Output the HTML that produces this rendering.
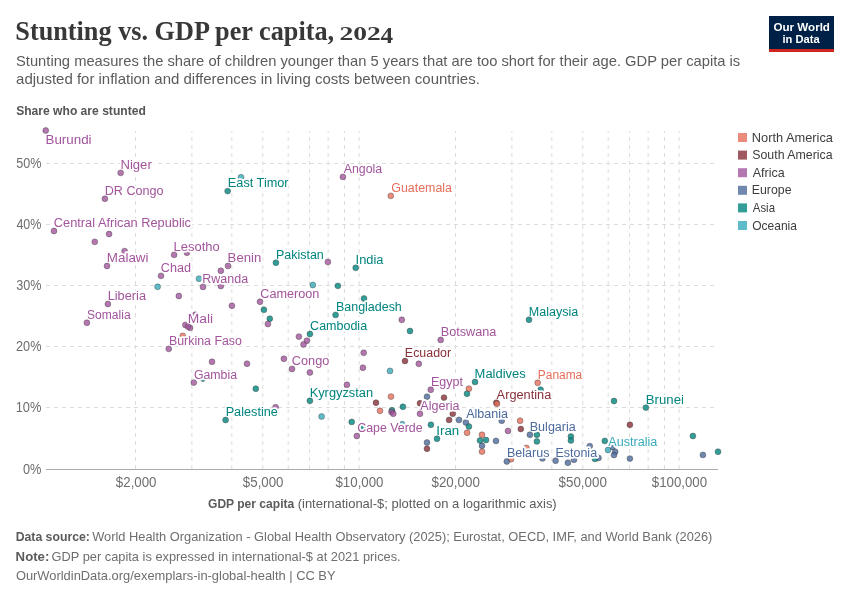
<!DOCTYPE html>
<html><head><meta charset="utf-8"><title>Stunting vs. GDP per capita, 2024</title>
<style>
html,body{margin:0;padding:0;background:#fff;}
body{width:850px;height:600px;overflow:hidden;}
svg{display:block;will-change:transform;}
text{font-family:"Liberation Sans",sans-serif;}
.serif{font-family:"Liberation Serif",serif;}
</style></head><body>
<svg width="850" height="600" viewBox="0 0 850 600">
<rect width="850" height="600" fill="#fff"/>

<text class="serif" x="15.31" y="40.3" font-size="27" font-weight="bold" fill="#383838" textLength="318.88" lengthAdjust="spacingAndGlyphs">Stunting vs. GDP per capita,</text>
<text class="serif" x="339.54" y="40.3" font-size="19.8" font-weight="bold" fill="#383838" textLength="41.34" lengthAdjust="spacingAndGlyphs">202</text>
<text class="serif" x="380.56" y="43.3" font-size="23.6" font-weight="bold" fill="#383838" textLength="12.61" lengthAdjust="spacingAndGlyphs">4</text>
<text x="16.03" y="66" font-size="14.2" fill="#5b5b5b" textLength="724.20" lengthAdjust="spacingAndGlyphs">Stunting measures the share of children younger than 5 years that are too short for their age. GDP per capita is</text>
<text x="16.06" y="84" font-size="14.2" fill="#5b5b5b" textLength="463.80" lengthAdjust="spacingAndGlyphs">adjusted for inflation and differences in living costs between countries.</text>
<rect x="769" y="16" width="65" height="33" fill="#002147"/><rect x="769" y="49" width="65" height="3" fill="#CE261E"/>
<text x="773.43" y="30.5" font-size="11.8" font-weight="bold" fill="#fff" textLength="56.54" lengthAdjust="spacingAndGlyphs">Our World</text>
<text x="782.52" y="42.5" font-size="11.8" font-weight="bold" fill="#fff" textLength="37.21" lengthAdjust="spacingAndGlyphs">in Data</text>
<text x="16.15" y="114.8" font-size="12.6" font-weight="bold" fill="#555555" textLength="129.65" lengthAdjust="spacingAndGlyphs">Share who are stunted</text>
<g stroke="#dddddd" stroke-width="1" stroke-dasharray="4,4" fill="none"><line x1="46" y1="407.50" x2="718" y2="407.50"/><line x1="46" y1="346.50" x2="718" y2="346.50"/><line x1="46" y1="285.50" x2="718" y2="285.50"/><line x1="46" y1="224.50" x2="718" y2="224.50"/><line x1="46" y1="163.50" x2="718" y2="163.50"/><line x1="135.50" y1="131" x2="135.50" y2="469" stroke-dashoffset="2"/><line x1="191.85" y1="131" x2="191.85" y2="469" stroke-dashoffset="2"/><line x1="231.83" y1="131" x2="231.83" y2="469" stroke-dashoffset="2"/><line x1="262.84" y1="131" x2="262.84" y2="469" stroke-dashoffset="2"/><line x1="288.18" y1="131" x2="288.18" y2="469" stroke-dashoffset="2"/><line x1="309.60" y1="131" x2="309.60" y2="469" stroke-dashoffset="2"/><line x1="328.16" y1="131" x2="328.16" y2="469" stroke-dashoffset="2"/><line x1="344.53" y1="131" x2="344.53" y2="469" stroke-dashoffset="2"/><line x1="359.17" y1="131" x2="359.17" y2="469" stroke-dashoffset="2"/><line x1="455.50" y1="131" x2="455.50" y2="469" stroke-dashoffset="2"/><line x1="511.85" y1="131" x2="511.85" y2="469" stroke-dashoffset="2"/><line x1="551.83" y1="131" x2="551.83" y2="469" stroke-dashoffset="2"/><line x1="582.84" y1="131" x2="582.84" y2="469" stroke-dashoffset="2"/><line x1="608.18" y1="131" x2="608.18" y2="469" stroke-dashoffset="2"/><line x1="629.60" y1="131" x2="629.60" y2="469" stroke-dashoffset="2"/><line x1="648.16" y1="131" x2="648.16" y2="469" stroke-dashoffset="2"/><line x1="664.53" y1="131" x2="664.53" y2="469" stroke-dashoffset="2"/><line x1="679.17" y1="131" x2="679.17" y2="469" stroke-dashoffset="2"/></g>
<line x1="46" y1="469.5" x2="718" y2="469.5" stroke="#aaaaaa" stroke-width="1"/>
<text x="23.00" y="473.65" font-size="14.0" fill="#6e6e6e" textLength="18.45" lengthAdjust="spacingAndGlyphs">0%</text>
<text x="15.72" y="412.45" font-size="14.0" fill="#6e6e6e" textLength="25.74" lengthAdjust="spacingAndGlyphs">10%</text>
<text x="16.06" y="351.25" font-size="14.0" fill="#6e6e6e" textLength="25.39" lengthAdjust="spacingAndGlyphs">20%</text>
<text x="16.22" y="290.05" font-size="14.0" fill="#6e6e6e" textLength="25.23" lengthAdjust="spacingAndGlyphs">30%</text>
<text x="16.41" y="228.85" font-size="14.0" fill="#6e6e6e" textLength="25.03" lengthAdjust="spacingAndGlyphs">40%</text>
<text x="16.19" y="167.65" font-size="14.0" fill="#6e6e6e" textLength="25.25" lengthAdjust="spacingAndGlyphs">50%</text>
<text x="115.86" y="487.1" font-size="14.0" fill="#6e6e6e" textLength="40.66" lengthAdjust="spacingAndGlyphs">$2,000</text>
<text x="242.86" y="487.1" font-size="14.0" fill="#6e6e6e" textLength="40.66" lengthAdjust="spacingAndGlyphs">$5,000</text>
<text x="335.46" y="487.1" font-size="14.0" fill="#6e6e6e" textLength="48.06" lengthAdjust="spacingAndGlyphs">$10,000</text>
<text x="431.46" y="487.1" font-size="14.0" fill="#6e6e6e" textLength="48.37" lengthAdjust="spacingAndGlyphs">$20,000</text>
<text x="558.56" y="487.1" font-size="14.0" fill="#6e6e6e" textLength="48.37" lengthAdjust="spacingAndGlyphs">$50,000</text>
<text x="651.76" y="487.1" font-size="14.0" fill="#6e6e6e" textLength="55.36" lengthAdjust="spacingAndGlyphs">$100,000</text>
<text x="208.01" y="508.1" font-size="13.2" font-weight="bold" fill="#5b5b5b" textLength="86.22" lengthAdjust="spacingAndGlyphs">GDP per capita</text>
<text x="297.70" y="508.1" font-size="13.2" fill="#5b5b5b" textLength="259.01" lengthAdjust="spacingAndGlyphs">(international-$; plotted on a logarithmic axis)</text>
<text x="15.68" y="540.7" font-size="13.2" font-weight="bold" fill="#5b5b5b" textLength="74.20" lengthAdjust="spacingAndGlyphs">Data source:</text>
<text x="92.14" y="540.7" font-size="13.2" fill="#6e6e6e" textLength="620.25" lengthAdjust="spacingAndGlyphs">World Health Organization - Global Health Observatory (2025); Eurostat, OECD, IMF, and World Bank (2026)</text>
<text x="15.62" y="560.5" font-size="13.2" font-weight="bold" fill="#5b5b5b" textLength="33.75" lengthAdjust="spacingAndGlyphs">Note:</text>
<text x="51.56" y="560.5" font-size="13.2" fill="#6e6e6e" textLength="349.12" lengthAdjust="spacingAndGlyphs">GDP per capita is expressed in international-$ at 2021 prices.</text>
<text x="15.89" y="580.4" font-size="13.2" fill="#6e6e6e" textLength="319.69" lengthAdjust="spacingAndGlyphs">OurWorldinData.org/exemplars-in-global-health | CC BY</text>
<g stroke="#333" stroke-opacity="0.75" stroke-width="0.5">
<circle cx="427" cy="396.7" r="2.95" fill="#4C6A9C" fill-opacity="0.8"/>
<circle cx="459" cy="419.9" r="2.95" fill="#4C6A9C" fill-opacity="0.8"/>
<circle cx="465.9" cy="422.5" r="2.95" fill="#4C6A9C" fill-opacity="0.8"/>
<circle cx="427" cy="442.5" r="2.95" fill="#4C6A9C" fill-opacity="0.8"/>
<circle cx="496" cy="440.9" r="2.95" fill="#4C6A9C" fill-opacity="0.8"/>
<circle cx="482" cy="445.8" r="2.95" fill="#4C6A9C" fill-opacity="0.8"/>
<circle cx="501.7" cy="420.75" r="2.95" fill="#4C6A9C" fill-opacity="0.8"/>
<circle cx="542.5" cy="458.4" r="2.95" fill="#4C6A9C" fill-opacity="0.8"/>
<circle cx="567.9" cy="462.75" r="2.95" fill="#4C6A9C" fill-opacity="0.8"/>
<circle cx="574" cy="459.8" r="2.95" fill="#4C6A9C" fill-opacity="0.8"/>
<circle cx="589.75" cy="446.1" r="2.95" fill="#4C6A9C" fill-opacity="0.8"/>
<circle cx="598.5" cy="457.9" r="2.95" fill="#4C6A9C" fill-opacity="0.8"/>
<circle cx="612.5" cy="447" r="2.95" fill="#4C6A9C" fill-opacity="0.8"/>
<circle cx="615.2" cy="451.8" r="2.95" fill="#4C6A9C" fill-opacity="0.8"/>
<circle cx="614" cy="455" r="2.95" fill="#4C6A9C" fill-opacity="0.8"/>
<circle cx="629.9" cy="458.6" r="2.95" fill="#4C6A9C" fill-opacity="0.8"/>
<circle cx="702.9" cy="454.9" r="2.95" fill="#4C6A9C" fill-opacity="0.8"/>
<circle cx="337.9" cy="285.85" r="2.95" fill="#00847E" fill-opacity="0.8"/>
<circle cx="364" cy="298.5" r="2.95" fill="#00847E" fill-opacity="0.8"/>
<circle cx="263.9" cy="309.8" r="2.95" fill="#00847E" fill-opacity="0.8"/>
<circle cx="269.8" cy="318.7" r="2.95" fill="#00847E" fill-opacity="0.8"/>
<circle cx="410" cy="331" r="2.95" fill="#00847E" fill-opacity="0.8"/>
<circle cx="255.8" cy="388.75" r="2.95" fill="#00847E" fill-opacity="0.8"/>
<circle cx="202.9" cy="378.6" r="2.95" fill="#00847E" fill-opacity="0.8"/>
<circle cx="351.7" cy="421.9" r="2.95" fill="#00847E" fill-opacity="0.8"/>
<circle cx="363" cy="427" r="2.95" fill="#00847E" fill-opacity="0.8"/>
<circle cx="402.9" cy="406.8" r="2.95" fill="#00847E" fill-opacity="0.8"/>
<circle cx="392" cy="410.3" r="2.95" fill="#00847E" fill-opacity="0.8"/>
<circle cx="430.9" cy="424.8" r="2.95" fill="#00847E" fill-opacity="0.8"/>
<circle cx="467" cy="393.7" r="2.95" fill="#00847E" fill-opacity="0.8"/>
<circle cx="540.6" cy="389.6" r="2.95" fill="#00847E" fill-opacity="0.8"/>
<circle cx="468.9" cy="426.5" r="2.95" fill="#00847E" fill-opacity="0.8"/>
<circle cx="480" cy="440.5" r="2.95" fill="#00847E" fill-opacity="0.8"/>
<circle cx="486" cy="440" r="2.95" fill="#00847E" fill-opacity="0.8"/>
<circle cx="536.9" cy="434.75" r="2.95" fill="#00847E" fill-opacity="0.8"/>
<circle cx="536.9" cy="441.4" r="2.95" fill="#00847E" fill-opacity="0.8"/>
<circle cx="570.9" cy="436.5" r="2.95" fill="#00847E" fill-opacity="0.8"/>
<circle cx="570.9" cy="440.5" r="2.95" fill="#00847E" fill-opacity="0.8"/>
<circle cx="604.8" cy="440.9" r="2.95" fill="#00847E" fill-opacity="0.8"/>
<circle cx="614" cy="401" r="2.95" fill="#00847E" fill-opacity="0.8"/>
<circle cx="692.9" cy="436" r="2.95" fill="#00847E" fill-opacity="0.8"/>
<circle cx="718" cy="451.7" r="2.95" fill="#00847E" fill-opacity="0.8"/>
<circle cx="595" cy="458.9" r="2.95" fill="#00847E" fill-opacity="0.8"/>
<circle cx="376" cy="402.7" r="2.95" fill="#883039" fill-opacity="0.8"/>
<circle cx="420" cy="403.3" r="2.95" fill="#883039" fill-opacity="0.8"/>
<circle cx="444" cy="397.6" r="2.95" fill="#883039" fill-opacity="0.8"/>
<circle cx="452.75" cy="413.75" r="2.95" fill="#883039" fill-opacity="0.8"/>
<circle cx="449.1" cy="419.9" r="2.95" fill="#883039" fill-opacity="0.8"/>
<circle cx="427" cy="448.75" r="2.95" fill="#883039" fill-opacity="0.8"/>
<circle cx="520.8" cy="429" r="2.95" fill="#883039" fill-opacity="0.8"/>
<circle cx="629.9" cy="424.8" r="2.95" fill="#883039" fill-opacity="0.8"/>
<circle cx="109.1" cy="234" r="2.95" fill="#A2559C" fill-opacity="0.8"/>
<circle cx="94.75" cy="241.85" r="2.95" fill="#A2559C" fill-opacity="0.8"/>
<circle cx="124.6" cy="251.1" r="2.95" fill="#A2559C" fill-opacity="0.8"/>
<circle cx="186.9" cy="252.75" r="2.95" fill="#A2559C" fill-opacity="0.8"/>
<circle cx="220.85" cy="270.8" r="2.95" fill="#A2559C" fill-opacity="0.8"/>
<circle cx="220.85" cy="286" r="2.95" fill="#A2559C" fill-opacity="0.8"/>
<circle cx="178.85" cy="296" r="2.95" fill="#A2559C" fill-opacity="0.8"/>
<circle cx="231.9" cy="305.8" r="2.95" fill="#A2559C" fill-opacity="0.8"/>
<circle cx="185.4" cy="324.9" r="2.95" fill="#A2559C" fill-opacity="0.8"/>
<circle cx="190.1" cy="327.85" r="2.95" fill="#A2559C" fill-opacity="0.8"/>
<circle cx="195.3" cy="314.8" r="2.95" fill="#A2559C" fill-opacity="0.8"/>
<circle cx="212" cy="361.8" r="2.95" fill="#A2559C" fill-opacity="0.8"/>
<circle cx="247" cy="363.7" r="2.95" fill="#A2559C" fill-opacity="0.8"/>
<circle cx="267.9" cy="324" r="2.95" fill="#A2559C" fill-opacity="0.8"/>
<circle cx="298.9" cy="336.6" r="2.95" fill="#A2559C" fill-opacity="0.8"/>
<circle cx="306.9" cy="340.7" r="2.95" fill="#A2559C" fill-opacity="0.8"/>
<circle cx="303.5" cy="344.5" r="2.95" fill="#A2559C" fill-opacity="0.8"/>
<circle cx="283.9" cy="358.8" r="2.95" fill="#A2559C" fill-opacity="0.8"/>
<circle cx="309.9" cy="372.5" r="2.95" fill="#A2559C" fill-opacity="0.8"/>
<circle cx="275.6" cy="407.3" r="2.95" fill="#A2559C" fill-opacity="0.8"/>
<circle cx="327.9" cy="261.9" r="2.95" fill="#A2559C" fill-opacity="0.8"/>
<circle cx="401.8" cy="319.8" r="2.95" fill="#A2559C" fill-opacity="0.8"/>
<circle cx="363.7" cy="352.8" r="2.95" fill="#A2559C" fill-opacity="0.8"/>
<circle cx="362.9" cy="367.7" r="2.95" fill="#A2559C" fill-opacity="0.8"/>
<circle cx="346.9" cy="384.8" r="2.95" fill="#A2559C" fill-opacity="0.8"/>
<circle cx="418.8" cy="363.8" r="2.95" fill="#A2559C" fill-opacity="0.8"/>
<circle cx="391.5" cy="412" r="2.95" fill="#A2559C" fill-opacity="0.8"/>
<circle cx="393.3" cy="413.75" r="2.95" fill="#A2559C" fill-opacity="0.8"/>
<circle cx="508" cy="430.9" r="2.95" fill="#A2559C" fill-opacity="0.8"/>
<circle cx="182.75" cy="335.9" r="2.95" fill="#E56E5A" fill-opacity="0.8"/>
<circle cx="391" cy="396.6" r="2.95" fill="#E56E5A" fill-opacity="0.8"/>
<circle cx="380" cy="410.8" r="2.95" fill="#E56E5A" fill-opacity="0.8"/>
<circle cx="468.9" cy="388.7" r="2.95" fill="#E56E5A" fill-opacity="0.8"/>
<circle cx="467.1" cy="432.7" r="2.95" fill="#E56E5A" fill-opacity="0.8"/>
<circle cx="482" cy="434.75" r="2.95" fill="#E56E5A" fill-opacity="0.8"/>
<circle cx="482" cy="451.6" r="2.95" fill="#E56E5A" fill-opacity="0.8"/>
<circle cx="520.1" cy="420.75" r="2.95" fill="#E56E5A" fill-opacity="0.8"/>
<circle cx="511" cy="459.25" r="2.95" fill="#E56E5A" fill-opacity="0.8"/>
<circle cx="526.4" cy="447.9" r="2.95" fill="#E56E5A" fill-opacity="0.8"/>
<circle cx="241" cy="177.2" r="2.95" fill="#38AABA" fill-opacity="0.8"/>
<circle cx="157.6" cy="286.8" r="2.95" fill="#38AABA" fill-opacity="0.8"/>
<circle cx="199" cy="278.7" r="2.95" fill="#38AABA" fill-opacity="0.8"/>
<circle cx="312.85" cy="285" r="2.95" fill="#38AABA" fill-opacity="0.8"/>
<circle cx="321.6" cy="416.5" r="2.95" fill="#38AABA" fill-opacity="0.8"/>
<circle cx="390" cy="370.9" r="2.95" fill="#38AABA" fill-opacity="0.8"/>
<circle cx="402.2" cy="424.2" r="2.95" fill="#38AABA" fill-opacity="0.8"/>
</g>
<g font-size="12.3" stroke="#fff" stroke-width="3.5" stroke-linejoin="round" paint-order="stroke">
<text x="45.50" y="143.6" fill="#A2559C" textLength="46.10" lengthAdjust="spacingAndGlyphs">Burundi</text>
<text x="120.42" y="168.75" fill="#A2559C" textLength="31.40" lengthAdjust="spacingAndGlyphs">Niger</text>
<text x="104.77" y="194.65" fill="#A2559C" textLength="58.76" lengthAdjust="spacingAndGlyphs">DR Congo</text>
<text x="53.85" y="226.9" fill="#A2559C" textLength="137.18" lengthAdjust="spacingAndGlyphs">Central African Republic</text>
<text x="106.80" y="261.9" fill="#A2559C" textLength="41.70" lengthAdjust="spacingAndGlyphs">Malawi</text>
<text x="173.59" y="250.75" fill="#A2559C" textLength="46.06" lengthAdjust="spacingAndGlyphs">Lesotho</text>
<text x="160.86" y="271.75" fill="#A2559C" textLength="30.15" lengthAdjust="spacingAndGlyphs">Chad</text>
<text x="227.62" y="261.8" fill="#A2559C" textLength="33.63" lengthAdjust="spacingAndGlyphs">Benin</text>
<text x="202.32" y="282.8" fill="#A2559C" textLength="45.88" lengthAdjust="spacingAndGlyphs">Rwanda</text>
<text x="107.70" y="299.9" fill="#A2559C" textLength="38.30" lengthAdjust="spacingAndGlyphs">Liberia</text>
<text x="87.05" y="318.65" fill="#A2559C" textLength="43.60" lengthAdjust="spacingAndGlyphs">Somalia</text>
<text x="187.77" y="322.5" fill="#A2559C" textLength="25.31" lengthAdjust="spacingAndGlyphs">Mali</text>
<text x="168.98" y="344.75" fill="#A2559C" textLength="72.94" lengthAdjust="spacingAndGlyphs">Burkina Faso</text>
<text x="193.88" y="378.5" fill="#A2559C" textLength="43.12" lengthAdjust="spacingAndGlyphs">Gambia</text>
<text x="225.66" y="415.9" fill="#00847E" textLength="52.20" lengthAdjust="spacingAndGlyphs">Palestine</text>
<text x="227.87" y="187.0" fill="#00847E" textLength="60.74" lengthAdjust="spacingAndGlyphs">East Timor</text>
<text x="343.73" y="172.8" fill="#A2559C" textLength="38.52" lengthAdjust="spacingAndGlyphs">Angola</text>
<text x="391.28" y="191.75" fill="#E56E5A" textLength="60.72" lengthAdjust="spacingAndGlyphs">Guatemala</text>
<text x="275.98" y="258.65" fill="#00847E" textLength="47.83" lengthAdjust="spacingAndGlyphs">Pakistan</text>
<text x="355.62" y="263.7" fill="#00847E" textLength="27.78" lengthAdjust="spacingAndGlyphs">India</text>
<text x="260.26" y="297.65" fill="#A2559C" textLength="59.17" lengthAdjust="spacingAndGlyphs">Cameroon</text>
<text x="335.98" y="310.8" fill="#00847E" textLength="65.83" lengthAdjust="spacingAndGlyphs">Bangladesh</text>
<text x="310.12" y="329.9" fill="#00847E" textLength="56.98" lengthAdjust="spacingAndGlyphs">Cambodia</text>
<text x="291.85" y="364.9" fill="#A2559C" textLength="37.48" lengthAdjust="spacingAndGlyphs">Congo</text>
<text x="309.65" y="396.7" fill="#00847E" textLength="63.49" lengthAdjust="spacingAndGlyphs">Kyrgyzstan</text>
<text x="357.28" y="431.9" fill="#A2559C" textLength="65.37" lengthAdjust="spacingAndGlyphs">Cape Verde</text>
<text x="404.88" y="356.9" fill="#883039" textLength="46.22" lengthAdjust="spacingAndGlyphs">Ecuador</text>
<text x="440.76" y="335.8" fill="#A2559C" textLength="55.64" lengthAdjust="spacingAndGlyphs">Botswana</text>
<text x="528.72" y="315.65" fill="#00847E" textLength="49.48" lengthAdjust="spacingAndGlyphs">Malaysia</text>
<text x="474.64" y="377.8" fill="#00847E" textLength="51.13" lengthAdjust="spacingAndGlyphs">Maldives</text>
<text x="430.97" y="385.7" fill="#A2559C" textLength="32.02" lengthAdjust="spacingAndGlyphs">Egypt</text>
<text x="537.87" y="378.7" fill="#E56E5A" textLength="44.38" lengthAdjust="spacingAndGlyphs">Panama</text>
<text x="496.63" y="398.6" fill="#883039" textLength="54.62" lengthAdjust="spacingAndGlyphs">Argentina</text>
<text x="420.38" y="409.65" fill="#A2559C" textLength="39.02" lengthAdjust="spacingAndGlyphs">Algeria</text>
<text x="466.18" y="418.4" fill="#4C6A9C" textLength="41.82" lengthAdjust="spacingAndGlyphs">Albania</text>
<text x="436.27" y="434.7" fill="#00847E" textLength="22.94" lengthAdjust="spacingAndGlyphs">Iran</text>
<text x="529.77" y="430.65" fill="#4C6A9C" textLength="45.98" lengthAdjust="spacingAndGlyphs">Bulgaria</text>
<text x="506.97" y="457.4" fill="#4C6A9C" textLength="42.48" lengthAdjust="spacingAndGlyphs">Belarus</text>
<text x="555.48" y="456.6" fill="#4C6A9C" textLength="41.62" lengthAdjust="spacingAndGlyphs">Estonia</text>
<text x="608.28" y="445.9" fill="#38AABA" textLength="49.12" lengthAdjust="spacingAndGlyphs">Australia</text>
<text x="645.82" y="403.5" fill="#00847E" textLength="38.17" lengthAdjust="spacingAndGlyphs">Brunei</text>
</g>
<g stroke="#333" stroke-opacity="0.75" stroke-width="0.5">
<circle cx="45.75" cy="130.5" r="2.95" fill="#A2559C" fill-opacity="0.8"/>
<circle cx="120.65" cy="172.85" r="2.95" fill="#A2559C" fill-opacity="0.8"/>
<circle cx="104.9" cy="198.75" r="2.95" fill="#A2559C" fill-opacity="0.8"/>
<circle cx="54" cy="231" r="2.95" fill="#A2559C" fill-opacity="0.8"/>
<circle cx="107" cy="266" r="2.95" fill="#A2559C" fill-opacity="0.8"/>
<circle cx="174.1" cy="254.85" r="2.95" fill="#A2559C" fill-opacity="0.8"/>
<circle cx="161" cy="275.85" r="2.95" fill="#A2559C" fill-opacity="0.8"/>
<circle cx="228" cy="265.9" r="2.95" fill="#A2559C" fill-opacity="0.8"/>
<circle cx="203" cy="286.9" r="2.95" fill="#A2559C" fill-opacity="0.8"/>
<circle cx="107.9" cy="304" r="2.95" fill="#A2559C" fill-opacity="0.8"/>
<circle cx="86.9" cy="322.75" r="2.95" fill="#A2559C" fill-opacity="0.8"/>
<circle cx="188" cy="326.6" r="2.95" fill="#A2559C" fill-opacity="0.8"/>
<circle cx="168.75" cy="348.85" r="2.95" fill="#A2559C" fill-opacity="0.8"/>
<circle cx="193.8" cy="382.6" r="2.95" fill="#A2559C" fill-opacity="0.8"/>
<circle cx="225.6" cy="420" r="2.95" fill="#00847E" fill-opacity="0.8"/>
<circle cx="227.65" cy="191.1" r="2.95" fill="#00847E" fill-opacity="0.8"/>
<circle cx="342.9" cy="176.9" r="2.95" fill="#A2559C" fill-opacity="0.8"/>
<circle cx="390.8" cy="195.85" r="2.95" fill="#E56E5A" fill-opacity="0.8"/>
<circle cx="275.9" cy="262.75" r="2.95" fill="#00847E" fill-opacity="0.8"/>
<circle cx="355.7" cy="267.8" r="2.95" fill="#00847E" fill-opacity="0.8"/>
<circle cx="260" cy="301.75" r="2.95" fill="#A2559C" fill-opacity="0.8"/>
<circle cx="335.6" cy="314.9" r="2.95" fill="#00847E" fill-opacity="0.8"/>
<circle cx="309.9" cy="334" r="2.95" fill="#00847E" fill-opacity="0.8"/>
<circle cx="292" cy="369" r="2.95" fill="#A2559C" fill-opacity="0.8"/>
<circle cx="309.9" cy="400.8" r="2.95" fill="#00847E" fill-opacity="0.8"/>
<circle cx="356.8" cy="436" r="2.95" fill="#A2559C" fill-opacity="0.8"/>
<circle cx="405" cy="361" r="2.95" fill="#883039" fill-opacity="0.8"/>
<circle cx="440.7" cy="339.9" r="2.95" fill="#A2559C" fill-opacity="0.8"/>
<circle cx="529" cy="319.75" r="2.95" fill="#00847E" fill-opacity="0.8"/>
<circle cx="475" cy="381.9" r="2.95" fill="#00847E" fill-opacity="0.8"/>
<circle cx="430.75" cy="389.8" r="2.95" fill="#A2559C" fill-opacity="0.8"/>
<circle cx="537.7" cy="382.8" r="2.95" fill="#E56E5A" fill-opacity="0.8"/>
<circle cx="496.3" cy="402.7" r="2.95" fill="#883039" fill-opacity="0.8"/>
<circle cx="420" cy="413.75" r="2.95" fill="#A2559C" fill-opacity="0.8"/>
<circle cx="437" cy="438.8" r="2.95" fill="#00847E" fill-opacity="0.8"/>
<circle cx="529.9" cy="434.75" r="2.95" fill="#4C6A9C" fill-opacity="0.8"/>
<circle cx="506.8" cy="461.5" r="2.95" fill="#4C6A9C" fill-opacity="0.8"/>
<circle cx="555.6" cy="460.7" r="2.95" fill="#4C6A9C" fill-opacity="0.8"/>
<circle cx="608" cy="450" r="2.95" fill="#38AABA" fill-opacity="0.8"/>
<circle cx="645.85" cy="407.6" r="2.95" fill="#00847E" fill-opacity="0.8"/>
<circle cx="497" cy="403.8" r="2.95" fill="#E56E5A" fill-opacity="0.8"/>
</g>
<rect x="738" y="133.00" width="9" height="9" fill="#E56E5A" fill-opacity="0.8"/>
<text x="751.76" y="141.60" font-size="12.6" fill="#3d3d3d" textLength="81.24" lengthAdjust="spacingAndGlyphs">North America</text>
<rect x="738" y="150.60" width="9" height="9" fill="#883039" fill-opacity="0.8"/>
<text x="752.24" y="159.20" font-size="12.6" fill="#3d3d3d" textLength="80.36" lengthAdjust="spacingAndGlyphs">South America</text>
<rect x="738" y="168.20" width="9" height="9" fill="#A2559C" fill-opacity="0.8"/>
<text x="752.78" y="176.80" font-size="12.6" fill="#3d3d3d" textLength="31.82" lengthAdjust="spacingAndGlyphs">Africa</text>
<rect x="738" y="185.80" width="9" height="9" fill="#4C6A9C" fill-opacity="0.8"/>
<text x="751.79" y="194.40" font-size="12.6" fill="#3d3d3d" textLength="39.76" lengthAdjust="spacingAndGlyphs">Europe</text>
<rect x="738" y="203.40" width="9" height="9" fill="#00847E" fill-opacity="0.8"/>
<text x="752.78" y="212.00" font-size="12.6" fill="#3d3d3d" textLength="22.22" lengthAdjust="spacingAndGlyphs">Asia</text>
<rect x="738" y="221.00" width="9" height="9" fill="#38AABA" fill-opacity="0.8"/>
<text x="752.23" y="229.60" font-size="12.6" fill="#3d3d3d" textLength="44.77" lengthAdjust="spacingAndGlyphs">Oceania</text>
</svg></body></html>
